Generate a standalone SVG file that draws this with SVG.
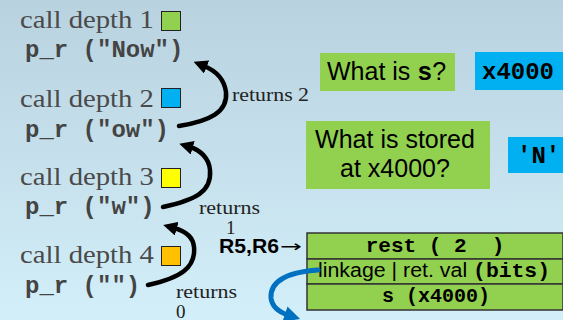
<svg xmlns="http://www.w3.org/2000/svg" width="563" height="320" viewBox="0 0 563 320">
  <defs>
    <linearGradient id="bg" x1="0" y1="0" x2="0" y2="1">
      <stop offset="0" stop-color="#b8d2df"/>
      <stop offset="1" stop-color="#d3eff9"/>
    </linearGradient>
    <marker id="headBlack" viewBox="0 0 10 10" refX="2" refY="5" markerWidth="14" markerHeight="14" markerUnits="userSpaceOnUse" orient="auto">
      <path d="M0,0 L10,5 L0,10 z" fill="#000"/>
    </marker>
    <marker id="headBlue" viewBox="0 0 10 10" refX="2" refY="5" markerWidth="16" markerHeight="16" markerUnits="userSpaceOnUse" orient="auto">
      <path d="M0,0 L10,5 L0,10 z" fill="#0070c0"/>
    </marker>
  </defs>
  <style>
    .depth { font-family: "Liberation Serif", serif; font-size: 25px; fill: #4a4a4a; }
    .call { font-family: "Liberation Mono", monospace; font-weight: bold; font-size: 24px; fill: #444; }
    .ret { font-family: "Liberation Serif", serif; font-size: 19px; fill: #222; }
    .sans { font-family: "Liberation Sans", sans-serif; fill: #000; }
    .mono { font-family: "Liberation Mono", monospace; font-weight: bold; fill: #000; }
    .green { fill: #92d050; }
    .blue { fill: #00b0f0; }
    .cell { fill: #92d050; stroke: #333; stroke-width: 1.5; }
    .sq { stroke: #222; stroke-width: 1; }
    .conn { fill: none; stroke: #000; stroke-width: 4.5; stroke-linecap: round; }
  </style>

  <rect width="563" height="320" fill="url(#bg)"/>

  <!-- call frames -->
  <g id="depth1">
    <text class="depth" x="20" y="28" textLength="134" lengthAdjust="spacingAndGlyphs">call depth 1</text>
    <rect class="sq" x="161.5" y="11.5" width="19" height="19" fill="#92d050"/>
    <text class="call" x="25" y="57">p_r ("Now")</text>
  </g>
  <g id="depth2">
    <text class="depth" x="20" y="107" textLength="134" lengthAdjust="spacingAndGlyphs">call depth 2</text>
    <rect class="sq" x="161.5" y="88.5" width="19" height="19" fill="#00b0f0"/>
    <text class="call" x="25" y="137">p_r ("ow")</text>
  </g>
  <g id="depth3">
    <text class="depth" x="20" y="185" textLength="134" lengthAdjust="spacingAndGlyphs">call depth 3</text>
    <rect class="sq" x="161.5" y="168.5" width="19" height="19" fill="#ffff00"/>
    <text class="call" x="25" y="214">p_r ("w")</text>
  </g>
  <g id="depth4">
    <text class="depth" x="20" y="263" textLength="134" lengthAdjust="spacingAndGlyphs">call depth 4</text>
    <rect class="sq" x="161.5" y="246.5" width="19" height="19" fill="#ffc000"/>
    <text class="call" x="25" y="293">p_r ("")</text>
  </g>

  <!-- return labels -->
  <g id="ret2"><text class="ret" x="232" y="101" textLength="77" lengthAdjust="spacingAndGlyphs">returns 2</text></g>
  <g id="ret1">
    <text class="ret" x="199" y="214" textLength="61" lengthAdjust="spacingAndGlyphs">returns</text>
    <text class="ret" x="226" y="234">1</text>
  </g>
  <g id="ret0">
    <text class="ret" x="176" y="298" textLength="61" lengthAdjust="spacingAndGlyphs">returns</text>
    <text class="ret" x="176" y="318">0</text>
  </g>

  <!-- questions and answers -->
  <g id="q1">
    <rect class="green" x="320" y="53" width="135" height="38"/>
    <text class="sans" x="327" y="80" font-size="25">What is <tspan class="mono">s</tspan>?</text>
  </g>
  <g id="a1">
    <rect class="blue" x="475" y="52" width="88" height="38"/>
    <text class="mono" x="482" y="79" font-size="24">x4000</text>
  </g>
  <g id="q2">
    <rect class="green" x="306" y="121" width="184" height="68"/>
    <text class="sans" x="395" y="148" font-size="25" text-anchor="middle">What is stored</text>
    <text class="sans" x="395" y="177" font-size="25" text-anchor="middle">at x4000?</text>
  </g>
  <g id="a2">
    <rect class="blue" x="508" y="137" width="55" height="36"/>
    <text class="mono" x="517" y="163" font-size="24">'N'</text>
  </g>

  <!-- stack frame -->
  <g id="pointer">
    <text class="sans" x="219" y="253" font-size="20" font-weight="bold" textLength="60" lengthAdjust="spacingAndGlyphs">R5,R6</text>
    <text x="280" y="252" font-family="DejaVu Sans, sans-serif" font-size="16" textLength="22" lengthAdjust="spacingAndGlyphs">→</text>
  </g>
  <g id="stack">
    <rect class="cell" x="307" y="233" width="256" height="26"/>
    <rect class="cell" x="307" y="259" width="256" height="25"/>
    <rect class="cell" x="307" y="284" width="256" height="26"/>
    <text class="mono" x="435" y="252" font-size="21" text-anchor="middle" xml:space="preserve">rest ( 2  )</text>
    <text class="sans" x="318" y="277" font-size="20" textLength="232" lengthAdjust="spacingAndGlyphs">linkage | ret. val <tspan class="mono">(bits)</tspan></text>
    <text class="mono" x="436" y="302" font-size="20" text-anchor="middle">s (x4000)</text>
  </g>

  <!-- connectors -->
  <g id="connectors">
    <path class="conn" d="M179,126 C210,121 228,112 226,92 C224,78 214,70 204,66" marker-end="url(#headBlack)"/>
    <path class="conn" d="M163,207 C195,200 212,192 210,170 C209,158 200,150 190,147" marker-end="url(#headBlack)"/>
    <path class="conn" d="M148,285 C180,278 196,268 194,247 C193,236 185,231 174,228" marker-end="url(#headBlack)"/>
    <path d="M318,270 C290,272 270,280 271,298 C272,307 279,312 288,315" fill="none" stroke="#0070c0" stroke-width="5" stroke-linecap="round" marker-end="url(#headBlue)"/>
  </g>
</svg>
